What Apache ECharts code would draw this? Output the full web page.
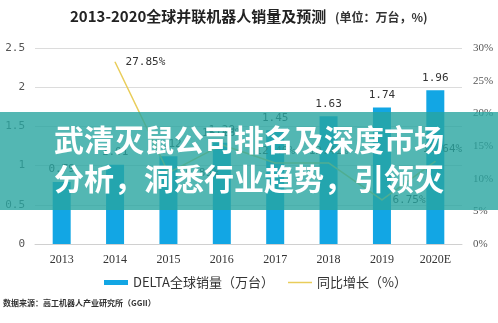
<!DOCTYPE html>
<html><head><meta charset="utf-8">
<script src="https://cdn.jsdelivr.net/npm/echarts@6/dist/echarts.min.js"></script>
<style>html,body{margin:0;padding:0;background:#fff}#c{width:498px;height:323px}</style>
</head><body><div id="c"></div>
<script>
const categories = ['2013','2014','2015','2016','2017','2018','2019','2020E'];
const sales = [0.79, 1.01, 1.12, 1.29, 1.45, 1.63, 1.74, 1.96];
const growth = ['-', 27.85, 10.89, 15.18, 12.40, 12.41, 6.75, 12.64];
const leftTicks = [0, 2.5, 0.5];
const rightTicks = [0, 30, 5];
const titleText = '2013-2020全球并联机器人销量及预测';
const unitText = '(单位：万台，%)';
const sourceText = '数据来源：高工机器人产业研究所（GGII）';
const bannerLines = ['武清灭鼠公司排名及深度市场', '分析，洞悉行业趋势，引领灭'];
const seriesNames = ['DELTA全球销量（万台）', '同比增长（%）'];
// label placement per point (style only)
const growthLabelPos = ['right', 'right', 'right', 'top', 'top', 'top', 'right', 'top'];

const chart = echarts.init(document.getElementById('c'));
const mono = '"DejaVu Sans Mono", "Liberation Mono", monospace';
const serif = '"Liberation Serif", "DejaVu Serif", serif';
const growthData = growth.map((v, i) => ({
  value: v,
  label: growthLabelPos[i] === 'top'
    ? {position: 'top', distance: 6, offset: [i === 7 ? 7 : 0, 0]}
    : {position: 'right', distance: 10}
}));
chart.setOption({
  animation: false,
  backgroundColor: '#fff',
  grid: {left: 35, right: 36, top: 48, bottom: 79},
  legend: {
    bottom: 29, left: 99, itemGap: 14, itemWidth: 24, itemHeight: 5,
    textStyle: {fontFamily: '"Noto Sans CJK SC", serif', fontSize: 13, color: '#333'},
    data: [
      {name: seriesNames[0], icon: 'rect'},
      {name: seriesNames[1], icon: 'path://M0,0H24V1.5H0Z'}
    ]
  },
  xAxis: {
    type: 'category', data: categories,
    axisLine: {lineStyle: {color: '#d0d0d0'}}, axisTick: {show: false},
    axisLabel: {fontFamily: serif, fontSize: 12, color: '#333', margin: 10}
  },
  yAxis: [
    {type: 'value', min: leftTicks[0], max: leftTicks[1], interval: leftTicks[2],
     axisLine: {show: false}, axisTick: {show: false},
     splitLine: {lineStyle: {color: '#dcdcdc'}},
     axisLabel: {fontFamily: mono, fontSize: 11, color: '#555', margin: 10}},
    {type: 'value', min: rightTicks[0], max: rightTicks[1], interval: rightTicks[2],
     axisLine: {show: false}, axisTick: {show: false}, splitLine: {show: false},
     axisLabel: {formatter: '{value}%', fontFamily: serif, fontSize: 11, color: '#555', margin: 11}}
  ],
  series: [
    {name: seriesNames[0], type: 'bar', data: sales, barWidth: 18,
     itemStyle: {color: '#12a6e4'},
     label: {show: true, position: 'top', distance: 7, fontFamily: mono, fontSize: 11, color: '#333'}},
    {name: seriesNames[1], type: 'line', yAxisIndex: 1, data: growthData,
     symbol: 'circle', symbolSize: 1, showSymbol: true,
     lineStyle: {color: '#e9cd5a', width: 1.5}, itemStyle: {color: '#e9cd5a'},
     label: {show: true, fontFamily: mono, fontSize: 11, color: '#333',
             formatter: function (p) { return (typeof p.value === 'number') ? p.value.toFixed(2) + '%' : ''; }}}
  ],
  graphic: [
    {type: 'text', x: 70, y: 9, style: {text: titleText, font: 'bold 15px "Noto Sans CJK SC"', fill: '#222'}},
    {type: 'text', x: 335, y: 11, style: {text: unitText, font: 'bold 12px "Noto Sans CJK SC"', fill: '#333'}},
    {type: 'text', x: 3, y: 299, style: {text: sourceText, font: 'bold 8px "Noto Sans CJK SC"', fill: '#333'}},
    {type: 'rect', shape: {x: 0, y: 112, width: 498, height: 98}, style: {fill: 'rgba(40,165,160,0.8)'}, z: 100},
    {type: 'text', left: 'center', top: 125, z: 101,
     style: {text: bannerLines[0], font: 'bold 30px "Noto Sans CJK SC"', fill: '#fff'}},
    {type: 'text', left: 'center', top: 164, z: 101,
     style: {text: bannerLines[1], font: 'bold 30px "Noto Sans CJK SC"', fill: '#fff'}}
  ]
});
</script></body></html>
